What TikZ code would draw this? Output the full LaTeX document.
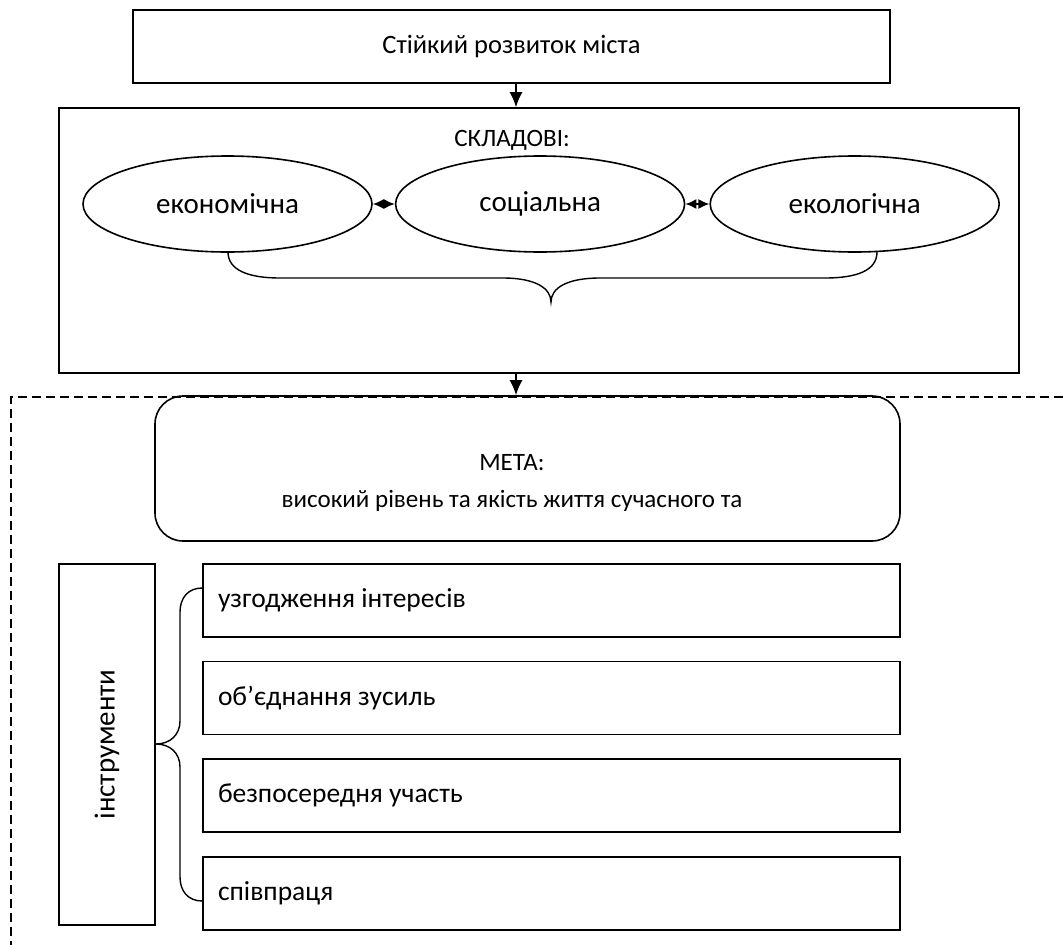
\documentclass[tikz,border=0pt]{standalone}
\usepackage{fontspec}
\setmainfont{Carlito}
\usetikzlibrary{arrows.meta,shapes,positioning}

\begin{document}
\begin{tikzpicture}[x=1pt,y=-1pt,line width=1.6pt,>={Latex[length=15pt,width=13pt]},
                    font=\fontsize{25}{30}\selectfont,
                    plain box/.style={rectangle,draw,inner sep=0pt},
                    part node/.style={ellipse,draw,minimum width=289pt,minimum height=96pt,inner sep=0pt,
                                      font=\fontsize{29}{34}\selectfont},
                    tool box/.style={rectangle,draw,text width=667pt,align=flush left,inner xsep=15pt,
                                     minimum height=73pt,font=\fontsize{27.5}{32}\selectfont},
                    brace/.style={line width=1.4pt}]

  \useasboundingbox (0,0) rectangle (1063,945);

  % dashed frame round the goal part
  \draw[dash pattern=on 9pt off 5pt] (1063,397) -- (11,397) -- (11,945);

  \node[plain box,minimum width=757pt,minimum height=73pt,font=\fontsize{26.5}{31}\selectfont] (top)
    at (511.5,46.5) {Стійкий розвиток міста};

  \node[plain box,minimum width=960pt,minimum height=265pt] (parts) at (539,240.5) {};
  \node (partsttl) at (512,140) {СКЛАДОВІ:};

  \node[part node] (eco) at (227.5,204) {економічна};
  \node[part node] (soc) [right=22pt of eco] {соціальна};
  \node[part node] (ecol) [right=24pt of soc] {екологічна};

  \draw[<->,>={Latex[length=11pt,width=10pt]}] (eco) -- (soc);
  \draw[<->,>={Latex[length=11pt,width=10pt]}] (soc) -- (ecol);

  \draw[brace] (228,252) .. controls (228,270) and (248,278) .. (280,278) -- (503,278)
    .. controls (535,278) and (551,288) .. (551,302)
    .. controls (551,288) and (567,278) .. (600,278) -- (825,278)
    .. controls (858,278) and (877,270) .. (877,252);

  \node[plain box,rounded corners=28pt,minimum width=745pt,minimum height=145pt] (goal) at (527.5,468.5) {};
  \node (goalttl) at (512,463) {МЕТА:};
  \node (goaltxt) at (512,501) {високий рівень та якість життя сучасного та};

  \draw[->] ([xshift=4.5pt]top.south) -- ([xshift=4.5pt]top.south |- parts.north);
  \draw[->] ([xshift=4.5pt]top.south |- parts.south) -- ([xshift=4.5pt]top.south |- goal.north);

  \node[plain box,minimum width=96pt,minimum height=361pt] (tools) at (107,744.5) {};
  \node[rotate=90,font=\fontsize{29}{34}\selectfont] (toolsttl) at (tools.center) {інструменти};

  \node[tool box] (t1) at (551.5,600.5) {узгодження інтересів};
  \node[tool box] (t2) [below=23pt of t1] {об’єднання зусиль};
  \node[tool box] (t3) [below=23pt of t2] {безпосередня участь};
  \node[tool box] (t4) [below=23pt of t3] {співпраця};

  \draw[brace] (t1.west |- 0,588) .. controls (188,588) and (180,598) .. (180,612) -- (180,721)
    .. controls (180,735) and (170,744) .. (tools.east |- 0,744)
    .. controls (170,744) and (180,753) .. (180,767) -- (180,877)
    .. controls (180,891) and (188,901) .. (t4.west |- 0,901);
\end{tikzpicture}
\end{document}
